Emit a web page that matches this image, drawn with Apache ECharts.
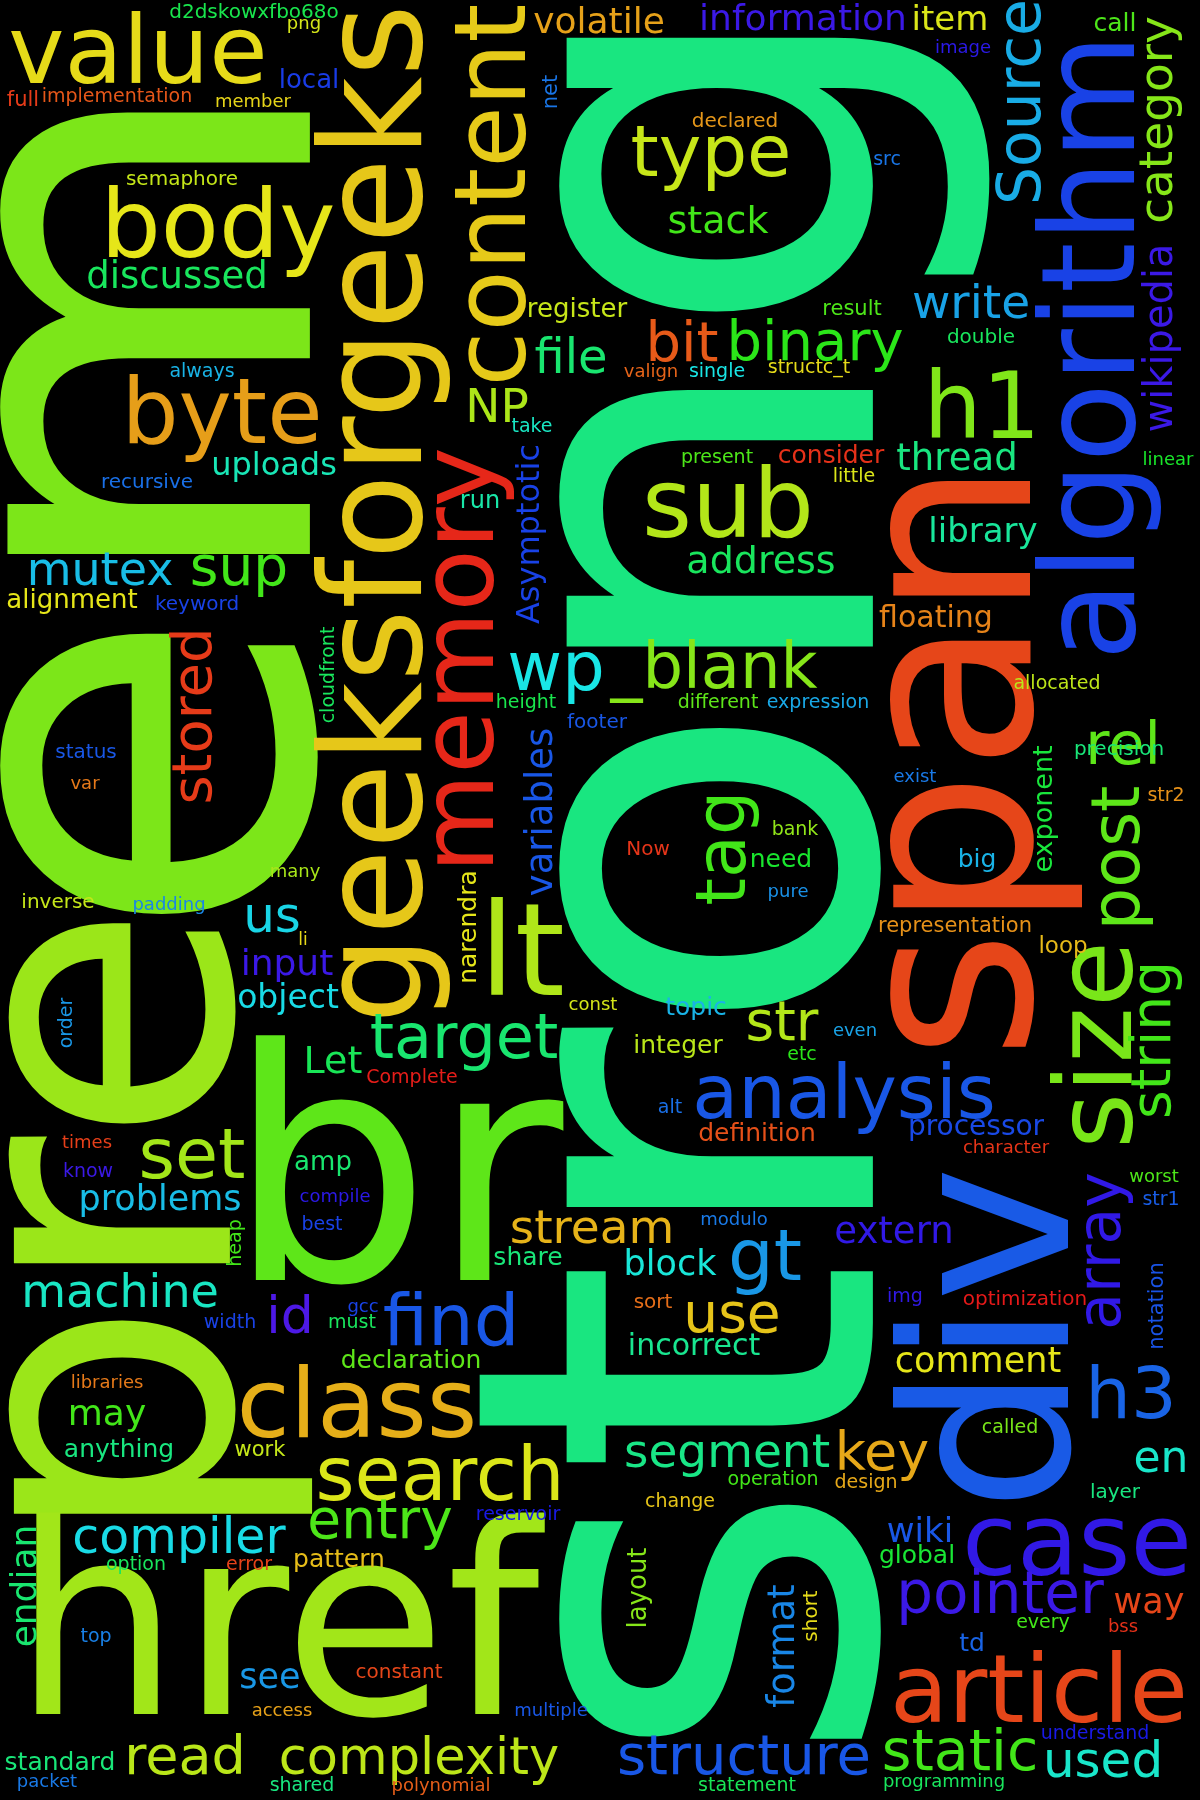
<!DOCTYPE html>
<html>
<head>
<meta charset="utf-8">
<script src="https://cdn.jsdelivr.net/npm/echarts@6/dist/echarts.min.js"></script>
<style>
  html, body { margin: 0; background: #000; }
  #chart { width: 1200px; height: 1800px; }
</style>
</head>
<body>
<div id="chart"></div>
<script>
// words of the cloud, biggest first
const words = [
  'strong', 'em', 'pre', 'br', 'geeksforgeeks', 'span', 'div', 'href', 'algorithm', 'memory',
  'content', 'lt', 'class', 'body', 'value', 'sub', 'byte', 'h1', 'article', 'case',
  'size', 'analysis', 'search', 'find', 'type', 'gt', 'h3', 'post', 'tag', 'set',
  'wp', '_blank', 'target', 'Source', 'array', 'rel', 'pointer', 'stored', 'bit', 'binary',
  'structure', 'static', 'str', 'use', 'sup', 'entry', 'string', 'key', 'read', 'id',
  'complexity', 'us', 'used', 'compiler', 'file', 'NP', 'category', 'write', 'stream', 'segment',
  'mutex', 'machine', 'en', 'stack', 'address', 'Let', 'thread', 'discussed', 'extern', 'variables',
  'format', 'information', 'volatile', 'input', 'wikipedia', 'may', 'endian', 'see', 'block', 'problems',
  'comment', 'way', 'item', 'library', 'wiki', 'object', 'Asymptotic', 'uploads', 'floating', 'incorrect',
  'processor', 'exponent', 'amp', 'register', 'alignment', 'layout', 'local', 'consider', 'narendra', 'topic',
  'integer', 'need', 'big', 'definition', 'declaration', 'share', 'pattern', 'anything', 'standard', 'global',
  'td', 'call', 'run', 'loop', 'full', 'representation', 'result', 'net', 'work', 'notation',
  'semaphore', 'keyword', 'status', 'inverse', 'double', 'footer', 'Now', 'sort', 'optimization', 'declared',
  'd2dskowxfbo68o', 'recursive', 'short', 'constant', 'layer', 'always', 'implementation', 'height', 'different', 'expression',
  'take', 'present', 'little', 'valign', 'single', 'structc_t', 'src', 'bank', 'etc', 'alt',
  'Complete', 'img', 'change', 'operation', 'design', 'called', 'times', 'know', 'best', 'heap',
  'width', 'gcc', 'must', 'compile', 'libraries', 'option', 'error', 'top', 'access', 'multiple',
  'packet', 'shared', 'polynomial', 'statement', 'programming', 'understand', 'every', 'bss', 'reservoir', 'modulo',
  'str1', 'worst', 'character', 'even', 'pure', 'exist', 'str2', 'precision', 'allocated', 'linear',
  'const', 'li', 'padding', 'many', 'var', 'cloudfront', 'order', 'image', 'png', 'member'
];

// weight of each word (rendered font size, px)
const weights = [
  560, 553, 395, 322, 140, 250, 230, 265, 130, 102,
  100, 128, 97, 95, 95, 96, 90, 92, 95, 100,
  107, 75, 75, 72, 72, 72, 72, 67, 70, 70,
  67, 64, 62, 60, 60, 59, 58, 56, 56, 56,
  56, 57, 55, 55, 55, 55, 55, 54, 54, 52,
  51, 50, 50, 49, 48, 47, 47, 47, 47, 47,
  46, 46, 44, 38, 38, 38, 37, 37, 37, 37,
  37, 36, 36, 36, 40, 36, 36, 35, 35, 35,
  35, 35, 34, 34, 34, 33, 32, 32, 30, 30,
  28, 27, 26, 26, 26, 26, 26, 25, 25, 25,
  25, 25, 25, 25, 25, 25, 25, 25, 25, 25,
  25, 25, 24, 23, 21, 21, 21, 21, 21, 21,
  20, 20, 20, 20, 20, 20, 20, 20, 20, 20,
  20, 20, 20, 20, 20, 19, 19, 19, 19, 19,
  19, 19, 19, 18, 19, 19, 19, 19, 19, 19,
  19, 19, 19, 19, 19, 19, 18, 19, 19, 19,
  19, 18, 19, 18, 18, 19, 19, 19, 18, 18,
  18, 19, 18, 19, 18, 19, 19, 18, 19, 18,
  19, 18, 18, 18, 18, 18, 19, 20, 19, 18,
  18, 17, 18, 18, 18, 19, 19, 18, 18, 18
];

// layout: centre along the text, baseline across it
const posX = [
  873, 310, 230, 395, 421, 1030, 1068, 276, 1134, 493,
  525, 522, 357, 218, 138, 728, 222, 982, 1039, 1077,
  1131, 844, 440, 451, 711, 765, 1131, 1139, 745, 192,
  556, 714, 464, 1040, 1120, 1123, 1000, 211, 682, 815,
  744, 960, 782, 732, 239, 380, 1170, 882, 185, 290,
  419, 272, 1103, 179, 571, 497, 1172, 971, 592, 727,
  100, 120, 1161, 718, 761, 333, 957, 177, 894, 552,
  794, 803, 599, 287, 1172, 107, 36, 270, 670, 160,
  978, 1149, 950, 983, 920, 288, 539, 274, 936, 694,
  976, 1052, 323, 577, 72, 646, 309, 831, 476, 696,
  678, 781, 977, 757, 411, 528, 339, 119, 60, 917,
  972, 1115, 480, 1063, 23, 955, 852, 557, 260, 1163,
  182, 197, 86, 58, 981, 597, 648, 653, 1025, 735,
  254, 147, 817, 399, 1115, 202, 117, 526, 718, 818,
  532, 717, 854, 651, 717, 809, 887, 795, 802, 670,
  412, 905, 680, 773, 866, 1010, 87, 88, 322, 241,
  230, 363, 352, 335, 107, 136, 249, 96, 282, 551,
  47, 302, 441, 747, 944, 1095, 1043, 1123, 518, 734,
  1161, 1154, 1006, 855, 788, 915, 1166, 1119, 1057, 1168,
  593, 303, 169, 295, 85, 334, 72, 963, 304, 253
];

const posY = [
  878, 505, 1226, 1280, 514, 760, 1339, 1714, 347, 660,
  195, 995, 1437, 257, 83, 537, 443, 438, 1722, 1575,
  1045, 1118, 1500, 1345, 176, 1280, 1418, 858, 848, 1178,
  690, 688, 1058, 102, 1251, 764, 1613, 716, 361, 360,
  1774, 1770, 1040, 1332, 585, 1538, 1040, 1470, 1774, 1333,
  1774, 932, 1777, 1553, 373, 422, 120, 318, 1243, 1467,
  585, 1307, 1472, 233, 573, 1073, 470, 288, 1243, 812,
  1646, 30, 33, 975, 338, 1425, 1586, 1688, 1275, 1210,
  1372, 1613, 30, 542, 1542, 1008, 534, 475, 627, 1355,
  1135, 809, 1170, 317, 608, 1588, 88, 463, 927, 1015,
  1053, 867, 867, 1141, 1368, 1265, 1567, 1457, 1770, 1563,
  1651, 31, 508, 953, 106, 932, 315, 92, 1456, 1306,
  185, 610, 758, 908, 343, 728, 855, 1308, 1305, 127,
  18, 488, 1616, 1678, 1498, 377, 102, 708, 708, 708,
  432, 463, 482, 377, 377, 373, 165, 835, 1060, 1113,
  1083, 1302, 1507, 1485, 1488, 1433, 1148, 1177, 1230, 1243,
  1328, 1312, 1328, 1202, 1388, 1570, 1570, 1642, 1716, 1716,
  1787, 1791, 1791, 1791, 1787, 1739, 1628, 1632, 1520, 1225,
  1205, 1182, 1153, 1036, 897, 782, 801, 755, 689, 465,
  1010, 945, 910, 877, 789, 675, 1023, 53, 29, 107
];

// words set upright (reading bottom to top)
const turnedWords = [
  'strong', 'em', 'pre', 'geeksforgeeks', 'span', 'div', 'algorithm', 'memory', 'content', 'size',
  'post', 'tag', 'Source', 'array', 'stored', 'string', 'category', 'variables', 'format', 'wikipedia',
  'endian', 'Asymptotic', 'exponent', 'layout', 'narendra', 'net', 'notation', 'short', 'heap', 'cloudfront',
  'order'
];

// hue of each word, hsl(h, 80%, 50%)
const hues = [
  150, 91, 82, 100, 51, 13, 221, 80, 228, 4,
  52, 76, 44, 60, 57, 75, 39, 90, 13, 247,
  92, 222, 63, 222, 69, 203, 218, 100, 108, 80,
  180, 88, 145, 197, 247, 100, 250, 10, 19, 115,
  222, 108, 75, 50, 108, 105, 108, 42, 73, 255,
  72, 185, 172, 183, 145, 77, 88, 200, 45, 152,
  192, 170, 172, 108, 140, 138, 150, 140, 247, 222,
  208, 250, 40, 250, 250, 108, 145, 203, 176, 192,
  60, 13, 63, 158, 222, 183, 228, 166, 31, 155,
  226, 130, 145, 69, 60, 88, 230, 7, 60, 195,
  73, 126, 195, 16, 100, 148, 48, 150, 148, 128,
  218, 105, 162, 47, 10, 35, 105, 213, 70, 223,
  70, 228, 222, 70, 140, 222, 8, 25, 0, 37,
  135, 215, 57, 13, 150, 195, 18, 135, 100, 198,
  170, 105, 63, 22, 180, 57, 213, 85, 115, 215,
  1, 247, 50, 108, 42, 92, 11, 250, 228, 108,
  228, 228, 140, 245, 28, 140, 12, 210, 40, 222,
  212, 150, 20, 138, 140, 240, 108, 7, 240, 212,
  220, 105, 8, 200, 205, 212, 35, 148, 72, 125,
  65, 56, 208, 78, 28, 140, 203, 245, 65, 55
];

// labels are drawn with a 'middle' baseline, which sits this far (in em) above the alphabetic one
const MID = 0.26;

const points = words.map((w, i) => {
  const size = weights[i];
  const up = turnedWords.indexOf(w) >= 0;
  return {
    name: w,
    value: up ? [posX[i] - MID * size, posY[i]] : [posX[i], posY[i] - MID * size],
    label: {
      fontSize: size,
      rotate: up ? 90 : 0,
      color: `hsl(${hues[i]}, 80%, 50%)`
    }
  };
});

const chart = echarts.init(document.getElementById('chart'));
chart.setOption({
  backgroundColor: '#000',
  animation: false,
  grid: {left: 0, right: 0, top: 0, bottom: 0},
  xAxis: {type: 'value', min: 0, max: 1200, show: false},
  yAxis: {type: 'value', min: 0, max: 1800, inverse: true, show: false},
  series: [{
    type: 'scatter',
    symbolSize: 1,
    itemStyle: {color: 'transparent', opacity: 1},
    silent: true,
    clip: false,
    data: points,
    label: {
      show: true,
      position: 'inside',
      formatter: '{b}',
      fontFamily: 'DejaVu Sans',
      align: 'center',
      verticalAlign: 'middle',
      opacity: 1
    }
  }]
});
</script>
</body>
</html>
